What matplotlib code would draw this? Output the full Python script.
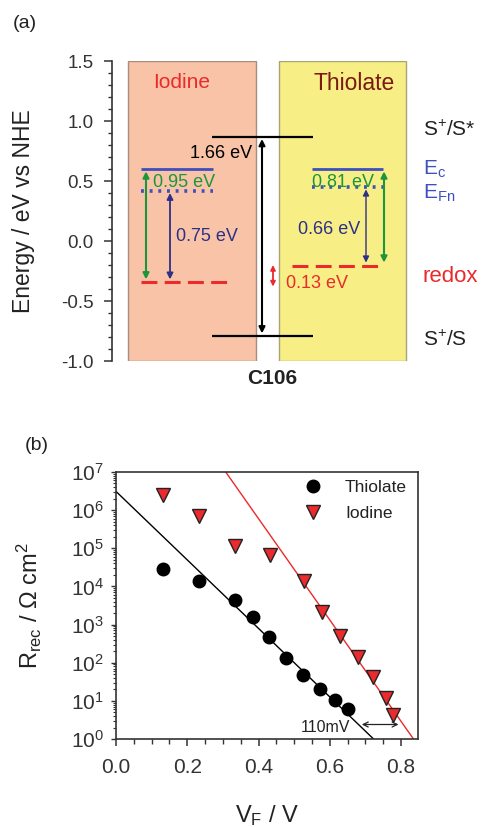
import matplotlib
matplotlib.use("Agg")
import matplotlib.pyplot as plt
from matplotlib.patches import Rectangle
from matplotlib.ticker import MultipleLocator, FormatStrFormatter, LogLocator, NullFormatter

plt.rcParams['font.family'] = ['Liberation Sans', 'DejaVu Sans']
plt.rcParams['mathtext.fontset'] = 'custom'
plt.rcParams['mathtext.rm'] = 'Liberation Sans'
plt.rcParams['mathtext.it'] = 'Liberation Sans:italic'
plt.rcParams['mathtext.bf'] = 'Liberation Sans:bold'

# ---------------- data: panel (a) energy levels (eV vs NHE) ----------------
electrolytes = ["Iodine", "Thiolate"]
level_Ec = [0.60, 0.60]
level_EFn = [0.42, 0.45]
level_redox = [-0.34, -0.21]
dye_levels = [0.87, -0.79]          # S+/S*, S+/S
gap_labels_iodine = ["0.95 eV", "0.75 eV"]
gap_labels_thiolate = ["0.81 eV", "0.66 eV"]
dye_gap_label = "1.66 eV"
redox_shift_label = "0.13 eV"
energy_ticks = [-1.0, -0.5, 0.0, 0.5, 1.0, 1.5]

# ---------------- data: panel (b) recombination resistance ----------------
vf_thiolate = [0.133, 0.233, 0.334, 0.384, 0.430, 0.477, 0.526, 0.573, 0.615, 0.651]
r_thiolate = [2.9e4, 1.35e4, 4.5e3, 1.6e3, 4.7e2, 1.36e2, 48, 20.6, 10.6, 6.1]
vf_iodine = [0.133, 0.232, 0.333, 0.431, 0.529, 0.578, 0.629, 0.679, 0.721, 0.758, 0.777]
r_iodine = [2.5e6, 6.9e5, 1.17e5, 6.7e4, 1.35e4, 2.1e3, 5.0e2, 1.45e2, 43, 11.7, 4.3]
fit_thiolate_v = [0.0, 0.723]
fit_thiolate_r = [3.1e6, 1.0]
fit_iodine_v = [0.308, 0.835]
fit_iodine_r = [1.0e7, 1.0]
shift_arrow_v = [0.69, 0.793]
shift_arrow_r = 2.4
shift_label = "110mV"
vf_ticks = [0.0, 0.2, 0.4, 0.6, 0.8]

# ---------------- styles ----------------
RED = '#EA2A2C'
BLUE = '#3E4FBE'
NAVY = '#2E2F86'
GREEN = '#1C953D'
DARKRED = '#7A1A12'
TXT = '#222222'

W, H = 482, 827
fig = plt.figure(figsize=(W / 100, H / 100), dpi=100)

# ====================== panel (a) ======================
axa = fig.add_axes([112 / W, 1 - 361 / H, (482 - 112) / W, 300 / H])
axa.set_xlim(112, 482)
axa.set_ylim(-1.0, 1.5)
for s in ['top', 'right', 'bottom']:
    axa.spines[s].set_visible(False)
axa.spines['left'].set_linewidth(1.2)
axa.spines['left'].set_color('#333333')
axa.set_xticks([])
axa.set_yticks(energy_ticks)
axa.yaxis.set_minor_locator(MultipleLocator(0.1))
axa.yaxis.set_major_formatter(FormatStrFormatter('%.1f'))
axa.tick_params(axis='y', which='major', direction='out', length=6, width=1.1,
                pad=7, labelsize=13.5, colors='#333333')
axa.tick_params(axis='y', which='minor', direction='out', length=3, width=1.0, colors='#333333')
ylab = axa.set_ylabel("Energy / eV vs NHE", fontsize=16.5, color=TXT)
axa.yaxis.set_label_coords(-0.238, 0.5)
ylab.set_va('center')

# electrolyte boxes
box_x = [128, 279]
box_w = [128, 127]
box_fc = ['#F8C3A6', '#F7EE86']
box_ec = ['#A88E80', '#A9A474']
for bx, bw, fc, ec in zip(box_x, box_w, box_fc, box_ec):
    axa.add_patch(Rectangle((bx, -1.0), bw, 2.5, facecolor=fc, edgecolor=ec, lw=1.0, zorder=1))

axa.text(182, 1.325, electrolytes[0], color=RED, fontsize=15, ha='center', va='center')
axa.text(354, 1.31, electrolytes[1], color=DARKRED, fontsize=16.5, ha='center', va='center')

# dye levels
for lvl in dye_levels:
    axa.plot([212, 313], [lvl, lvl], color='black', lw=1.6, zorder=3, solid_capstyle='butt')

def darrow(x, y0, y1, color, lw=1.4, ms=9):
    axa.annotate('', xy=(x, y0), xytext=(x, y1),
                 arrowprops=dict(arrowstyle='<|-|>', color=color, lw=lw,
                                 mutation_scale=ms, shrinkA=0, shrinkB=0), zorder=4)

darrow(262, dye_levels[0] - 0.02, dye_levels[1] + 0.02, 'black', lw=1.5)
axa.text(190, 0.725, dye_gap_label, color='black', fontsize=13, ha='left', va='center')

# Iodine levels
ix = [141, 213]
axa.plot(ix, [level_Ec[0]] * 2, color=BLUE, lw=2.0, zorder=3, solid_capstyle='butt')
axa.plot(ix, [level_EFn[0]] * 2, color=BLUE, lw=2.6, ls=(0, (0.8, 1.6)), zorder=3)
axa.plot([141, 228], [level_redox[0]] * 2, color=RED, lw=2.2, ls=(0, (5.2, 2.4)), zorder=3)
darrow(146, level_Ec[0] - 0.02, level_redox[0] + 0.02, GREEN, lw=1.5)
darrow(170, level_EFn[0] - 0.02, level_redox[0] + 0.02, NAVY, lw=1.3)
axa.text(153, 0.49, gap_labels_iodine[0], color=GREEN, fontsize=13, ha='left', va='center')
axa.text(176, 0.04, gap_labels_iodine[1], color=NAVY, fontsize=13, ha='left', va='center')

# Thiolate levels
tx = [312, 383]
axa.plot(tx, [level_Ec[1]] * 2, color=BLUE, lw=2.0, zorder=3, solid_capstyle='butt')
axa.plot(tx, [level_EFn[1]] * 2, color=BLUE, lw=2.6, ls=(0, (0.8, 1.6)), zorder=3)
axa.plot([292, 378], [level_redox[1]] * 2, color=RED, lw=2.2, ls=(0, (5.2, 2.4)), zorder=3)
darrow(384, level_Ec[1] - 0.02, level_redox[1] + 0.03, GREEN, lw=1.5)
darrow(366, level_EFn[1] - 0.02, level_redox[1] + 0.03, NAVY, lw=1.0)
axa.text(312, 0.49, gap_labels_thiolate[0], color=GREEN, fontsize=13, ha='left', va='center')
axa.text(298, 0.10, gap_labels_thiolate[1], color=NAVY, fontsize=13, ha='left', va='center')

# redox shift
darrow(273, level_redox[1] + 0.01, level_redox[0] - 0.04, RED, lw=1.3, ms=7)
axa.text(286, -0.35, redox_shift_label, color=RED, fontsize=13, ha='left', va='center')

# right-hand labels
axa.text(423, 0.925, r"S$^{+}$/S*", color=TXT, fontsize=15, ha='left', va='center')
axa.text(423, 0.60, r"E$_{\rm c}$", color=BLUE, fontsize=15, ha='left', va='center')
axa.text(423, 0.40, r"E$_{\rm Fn}$", color=BLUE, fontsize=15, ha='left', va='center')
axa.text(423, -0.30, "redox", color=RED, fontsize=16, ha='left', va='center')
axa.text(423, -0.825, r"S$^{+}$/S", color=TXT, fontsize=15, ha='left', va='center')

axa.text(272, -1.142, "C106", color=TXT, fontsize=15, fontweight='bold', ha='center', va='center')

fig.text(13 / W, 1 - 23 / H, "(a)", fontsize=14, color=TXT, ha='left', va='center')

# ====================== panel (b) ======================
axb = fig.add_axes([116 / W, 1 - 739 / H, 302 / W, 267 / H])
axb.set_yscale('log')
axb.set_xlim(0, 0.8477)
axb.set_ylim(1, 1e7)

axb.plot(fit_thiolate_v, fit_thiolate_r, color='black', lw=1.0, zorder=2)
axb.plot(fit_iodine_v, fit_iodine_r, color=RED, lw=1.0, zorder=2)
axb.plot(vf_thiolate, r_thiolate, ls='none', marker='o', ms=9, mfc='black', mec='black',
         label='Thiolate', zorder=3)
axb.plot(vf_iodine, r_iodine, ls='none', marker='v', ms=10, mfc=RED, mec='#222222', mew=1.0,
         label='Iodine', zorder=3)

axb.annotate('', xy=(shift_arrow_v[0], shift_arrow_r), xytext=(shift_arrow_v[1], shift_arrow_r),
             arrowprops=dict(arrowstyle='<->', color='#222222', lw=0.9, mutation_scale=9,
                             shrinkA=0, shrinkB=0), zorder=4)
axb.text(0.589, 1.95, shift_label, fontsize=11.5, color=TXT, ha='center', va='center')

axb.set_xticks(vf_ticks)
axb.xaxis.set_minor_locator(MultipleLocator(0.05))
axb.xaxis.set_major_formatter(FormatStrFormatter('%.1f'))
axb.yaxis.set_major_locator(LogLocator(base=10, numticks=10))
axb.yaxis.set_minor_locator(LogLocator(base=10, subs=range(2, 10), numticks=20))
axb.yaxis.set_minor_formatter(NullFormatter())
axb.tick_params(axis='x', which='major', direction='out', length=5, width=1.1, pad=9,
                labelsize=15, colors='#333333')
axb.tick_params(axis='x', which='minor', direction='out', length=3.5, width=1.0, colors='#333333')
axb.tick_params(axis='y', which='major', direction='out', length=3.5, width=1.0, pad=5,
                labelsize=15, colors='#333333')
axb.tick_params(axis='y', which='minor', direction='out', length=2.2, width=0.8, colors='#333333')
for s in axb.spines.values():
    s.set_linewidth(1.2)
    s.set_color('#333333')

yl = axb.set_ylabel(r"R$_{\rm rec}$ / Ω cm$^{2}$", fontsize=17, color=TXT)
axb.yaxis.set_label_coords(-0.288, 0.5)
yl.set_va('center')
xl = axb.set_xlabel(r"V$_{\rm F}$ / V", fontsize=17, color=TXT)
axb.xaxis.set_label_coords(0.5, -0.285)
xl.set_va('center')

leg = axb.legend(loc='upper left', bbox_to_anchor=(0.6235, 0.97), frameon=False,
                 fontsize=12.5, handlelength=1.0, handletextpad=1.34, borderpad=0,
                 borderaxespad=0, labelspacing=0.64, numpoints=1)
for t in leg.get_texts():
    t.set_color(TXT)

fig.text(25 / W, 1 - 446 / H, "(b)", fontsize=14, color=TXT, ha='left', va='center')

fig.savefig("out.png", dpi=100)
